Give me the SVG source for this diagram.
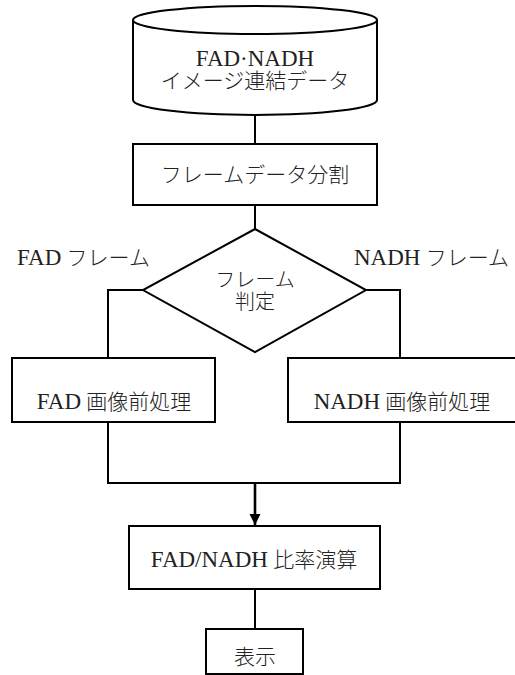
<svg xmlns="http://www.w3.org/2000/svg" width="515" height="675" viewBox="0 0 515 675">
<style>
.s{fill:#fff;stroke:#000;stroke-width:2}
.l{fill:none;stroke:#000;stroke-width:2}
text{font-family:"Liberation Serif","Noto Sans CJK JP",serif;font-size:21px;font-weight:300;fill:#222;text-anchor:middle}
.e{font-size:23px;font-weight:normal}
.lbl{text-anchor:start}
</style>
<defs>
<marker id="ah" viewBox="0 0 10 10" refX="10" refY="5" markerWidth="4.4" markerHeight="6" markerUnits="strokeWidth" orient="auto">
<path d="M0,0 L10,5 L0,10 z" fill="#000"/>
</marker>
</defs>
<g id="connectors">
<line class="l" x1="255" y1="115" x2="255" y2="144"/>
<line class="l" x1="255" y1="205" x2="255" y2="229"/>
<polyline class="l" points="143,290 108,290 108,358"/>
<polyline class="l" points="366,290 400,290 400,358"/>
<polyline class="l" points="108,422 108,483 400,483 400,422"/>
<line x1="255" y1="483" x2="255" y2="525" stroke="#000" stroke-width="2.6" marker-end="url(#ah)"/>
<line class="l" x1="255" y1="589" x2="255" y2="629"/>
<text class="lbl" x="17" y="265"><tspan class="e">FAD</tspan> フレーム</text>
<text class="lbl" x="354" y="265"><tspan class="e">NADH</tspan> フレーム</text>
</g>
<g id="data">
<path class="s" d="M133,20 L133,100 A122,15 0 0 0 377,100 L377,20"/>
<ellipse class="s" cx="255" cy="20" rx="122" ry="14"/>
<text x="255" y="66" class="e">FAD·NADH</text>
<text x="255" y="88">イメージ連結データ</text>
</g>
<g id="split">
<rect class="s" x="133" y="144" width="244" height="61"/>
<text x="255" y="182">フレームデータ分割</text>
</g>
<g id="judge">
<polygon class="s" points="255,229 366,290 255,352 143,290"/>
<text x="255" y="287" style="font-size:20px">フレーム</text>
<text x="255" y="309" style="font-size:20px">判定</text>
</g>
<g id="fadpre">
<rect class="s" x="12" y="358" width="203" height="64"/>
<text x="114" y="409"><tspan class="e">FAD</tspan> 画像前処理</text>
</g>
<g id="nadhpre">
<rect class="s" x="288" y="358" width="230" height="64"/>
<text x="402" y="409"><tspan class="e">NADH</tspan> 画像前処理</text>
</g>
<g id="ratio">
<rect class="s" x="129" y="526" width="251" height="63"/>
<text x="254" y="567"><tspan class="e">FAD/NADH</tspan> 比率演算</text>
</g>
<g id="display">
<rect class="s" x="206" y="629" width="97" height="45"/>
<text x="255" y="664">表示</text>
</g>
</svg>
